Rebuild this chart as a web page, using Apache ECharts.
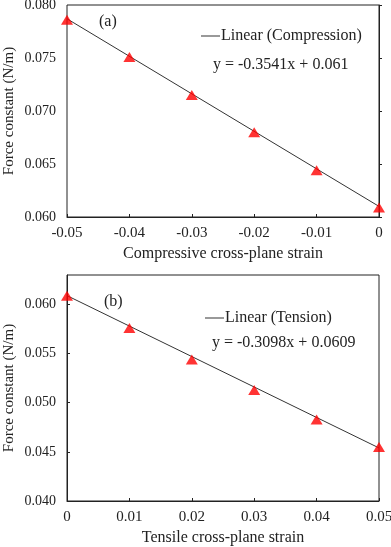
<!DOCTYPE html>
<html><head><meta charset="utf-8">
<script src="https://cdn.jsdelivr.net/npm/echarts@6/dist/echarts.min.js"></script>
<style>html,body{margin:0;padding:0;background:#fff}#c{width:391px;height:547px}</style>
</head><body><div id="c"></div>
<script>
// Panel (a): compression
const strainA = [-0.05, -0.04, -0.03, -0.02, -0.01, 0];
const forceA = [0.0786, 0.0751, 0.0715, 0.0680, 0.0644, 0.0609];
const fitAx = [-0.05, 0];
const fitAy = [0.0787, 0.0610];
// Panel (b): tension
const strainB = [0, 0.01, 0.02, 0.03, 0.04, 0.05];
const forceB = [0.0609, 0.0576, 0.0544, 0.0513, 0.0483, 0.0455];
const fitBx = [0, 0.05];
const fitBy = [0.0609, 0.0454];
const labelA = '(a)', labelB = '(b)';
const eqA = 'y = -0.3541x + 0.061';
const eqB = 'y = -0.3098x + 0.0609';
const legA = 'Linear (Compression)', legB = 'Linear (Tension)';

const FONT = 'Liberation Serif';
const chart = echarts.init(document.getElementById('c'));
const zip = (xs, ys) => xs.map((x, i) => [x, ys[i]]);
const axLine = {show: true, lineStyle: {color: '#222', width: 1}};
const xAx = (idx, min, max, name) => ({
  gridIndex: idx, type: 'value', min, max, interval: 0.01,
  name, nameLocation: 'middle', nameGap: 29, nameMoveOverlap: false,
  nameTextStyle: {fontFamily: FONT, fontSize: 16, color: '#222'},
  axisLine: axLine, axisTick: {show: true, inside: true, length: 3, lineStyle: {color: '#222'}},
  splitLine: {show: false},
  axisLabel: {fontFamily: FONT, fontSize: 15, color: '#222', margin: 9,
    formatter: v => { const r = Math.round(v * 100) / 100; return r === 0 ? '0' : r.toFixed(2); }}
});
const yAx = (idx, min, max) => ({
  gridIndex: idx, type: 'value', min, max, interval: 0.005,
  name: 'Force constant (N/m)', nameLocation: 'middle', nameGap: 50, nameMoveOverlap: false,
  nameTextStyle: {fontFamily: FONT, fontSize: 15, color: '#222'},
  axisLine: axLine, axisTick: {show: true, inside: true, length: 3, lineStyle: {color: '#222'}},
  splitLine: {show: false},
  axisLabel: {fontFamily: FONT, fontSize: 14, color: '#222', margin: 11, showMaxLabel: max === 0.080,
    formatter: v => v.toFixed(3)}
});
chart.setOption({
  animation: false,
  grid: [
    {left: 67, right: 12, top: 5, height: 212, show: true, borderColor: '#222', borderWidth: 1, containLabel: false, outerBoundsMode: 'none'},
    {left: 67, right: 12, top: 275, height: 226, show: true, borderColor: '#222', borderWidth: 1, containLabel: false, outerBoundsMode: 'none'}
  ],
  xAxis: [xAx(0, -0.05, 0, 'Compressive cross-plane strain'), xAx(1, 0, 0.05, 'Tensile cross-plane strain')],
  yAxis: [yAx(0, 0.060, 0.080), yAx(1, 0.040, 0.063)],
  legend: [
    {data: [legA], left: 196, top: 23, itemWidth: 19, itemHeight: 1, icon: 'rect', itemGap: 0,
     textStyle: {fontFamily: FONT, fontSize: 16, color: '#222', padding: [0,0,0,-4]}},
    {data: [legB], left: 200, top: 305, itemWidth: 19, itemHeight: 1, icon: 'rect', itemGap: 0,
     textStyle: {fontFamily: FONT, fontSize: 16, color: '#222', padding: [0,0,0,-4]}}
  ],
  graphic: [
    {type: 'text', left: 99, top: 14, style: {text: labelA, font: '16px "Liberation Serif"', fill: '#222'}},
    {type: 'text', left: 213, top: 57, style: {text: eqA, font: '16px "Liberation Serif"', fill: '#222'}},
    {type: 'text', left: 104, top: 294, style: {text: labelB, font: '16px "Liberation Serif"', fill: '#222'}},
    {type: 'text', left: 212, top: 335, style: {text: eqB, font: '16px "Liberation Serif"', fill: '#222'}}
  ],
  series: [
    {name: legA, type: 'line', xAxisIndex: 0, yAxisIndex: 0, data: zip(fitAx, fitAy), showSymbol: false,
     lineStyle: {color: '#333', width: 1}, itemStyle: {color: '#333'}},
    {name: 'ptsA', type: 'scatter', xAxisIndex: 0, yAxisIndex: 0, data: zip(strainA, forceA),
     symbol: 'triangle', symbolSize: [12, 10], itemStyle: {color: '#ff0000'}, z: 5},
    {name: legB, type: 'line', xAxisIndex: 1, yAxisIndex: 1, data: zip(fitBx, fitBy), showSymbol: false,
     lineStyle: {color: '#333', width: 1}, itemStyle: {color: '#333'}},
    {name: 'ptsB', type: 'scatter', xAxisIndex: 1, yAxisIndex: 1, data: zip(strainB, forceB),
     symbol: 'triangle', symbolSize: [12, 10], itemStyle: {color: '#ff0000'}, z: 5}
  ]
});
</script></body></html>
